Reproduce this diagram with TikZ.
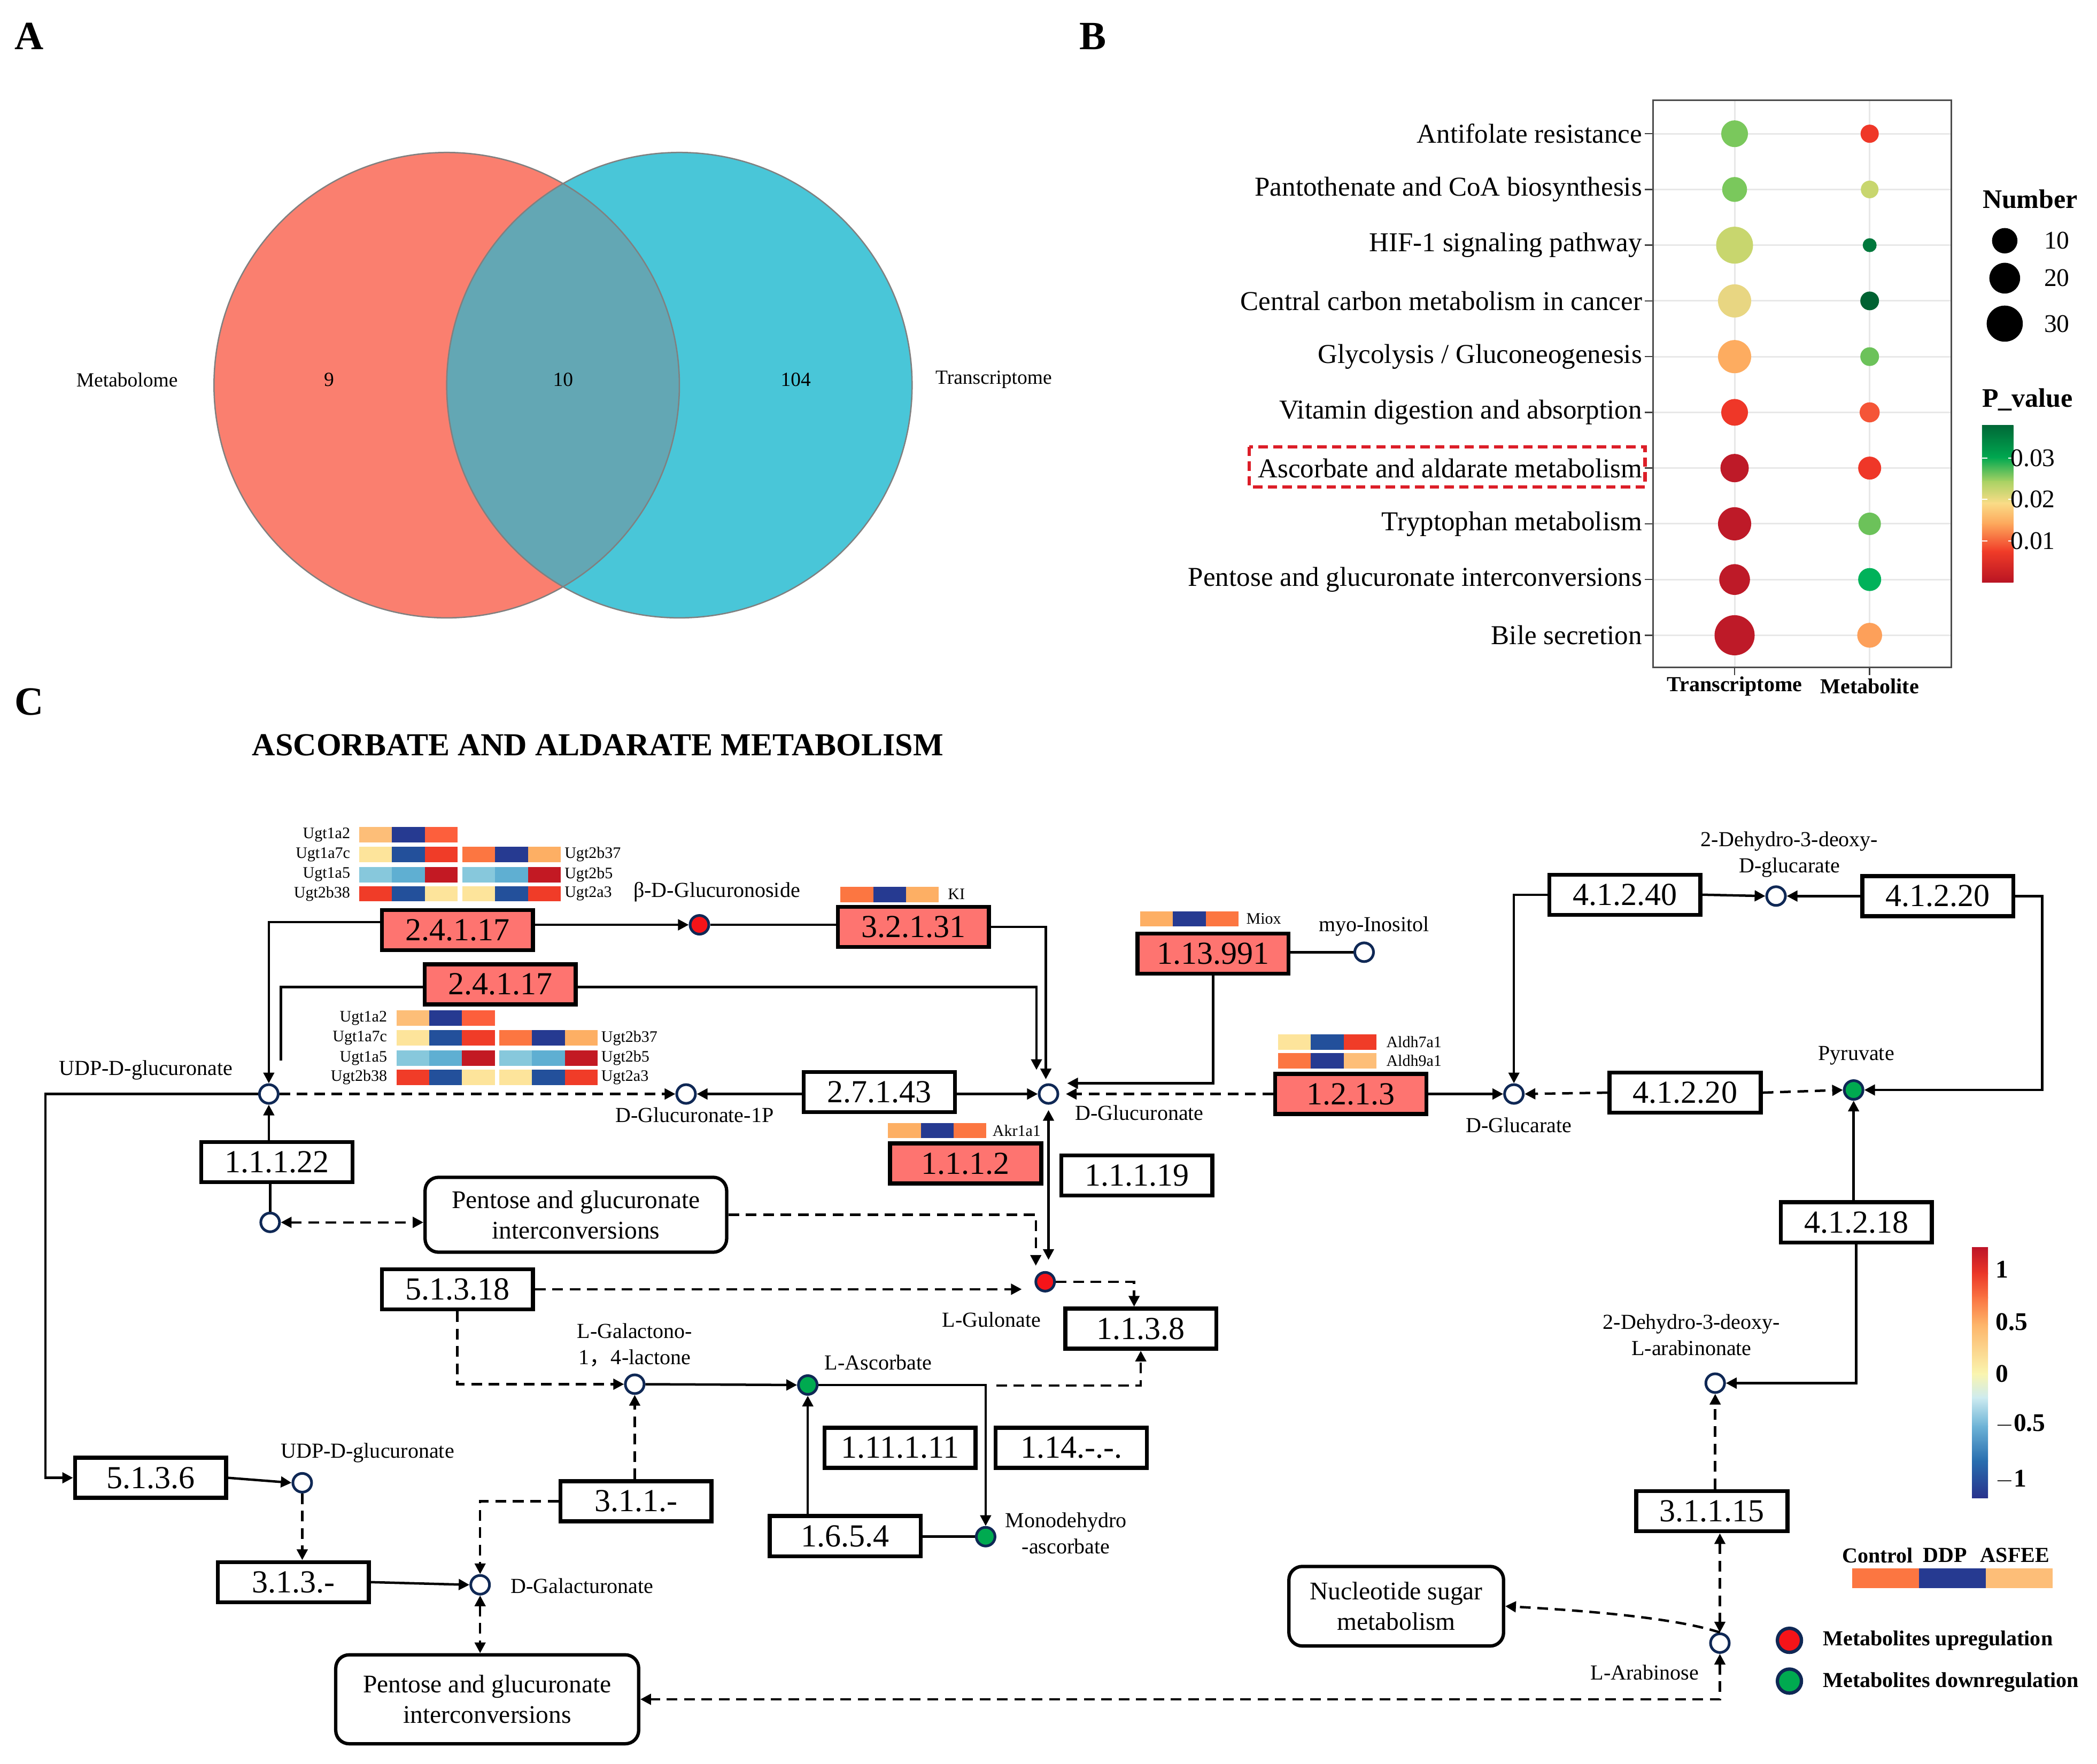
\documentclass[tikz,border=0pt]{standalone}
\usepackage{fontspec}
\setmainfont{Liberation Serif}
\newfontfamily\cjkfont{Noto Sans CJK SC}
\usetikzlibrary{arrows.meta}

% venn
\definecolor{venL}{RGB}{250,127,111}
\definecolor{venR}{RGB}{73,198,216}
\definecolor{venM}{RGB}{99,167,180}
\definecolor{venLine}{RGB}{128,128,128}
% bubble plot
\definecolor{pvDR}{RGB}{190,26,40}
\definecolor{pvR}{RGB}{239,55,40}
\definecolor{pvRO}{RGB}{245,85,55}
\definecolor{pvO}{RGB}{253,172,96}
\definecolor{pvOT}{RGB}{253,160,90}
\definecolor{pvY}{RGB}{232,214,130}
\definecolor{pvYG}{RGB}{200,214,110}
\definecolor{pvLG}{RGB}{122,200,92}
\definecolor{pvG}{RGB}{108,194,90}
\definecolor{pvMG}{RGB}{0,178,90}
\definecolor{pvDG}{RGB}{0,120,60}
\definecolor{pvDDG}{RGB}{0,98,50}
\definecolor{gridc}{RGB}{232,232,232}
\definecolor{hiRed}{RGB}{220,30,40}
\definecolor{pcA}{RGB}{0,104,55}
\definecolor{pcB}{RGB}{0,168,80}
\definecolor{pcC}{RGB}{170,210,100}
\definecolor{pcD}{RGB}{250,220,135}
\definecolor{pcE}{RGB}{253,165,90}
\definecolor{pcF}{RGB}{240,60,40}
\definecolor{pcG}{RGB}{185,20,35}
% pathway
\definecolor{ecred}{RGB}{254,116,112}
\definecolor{cpdline}{RGB}{15,40,85}
\definecolor{upRed}{RGB}{245,20,25}
\definecolor{downGreen}{RGB}{0,170,80}
\definecolor{hPeach}{RGB}{253,190,120}
\definecolor{hNavy}{RGB}{38,58,145}
\definecolor{hCoral}{RGB}{253,95,60}
\definecolor{hPale}{RGB}{253,228,155}
\definecolor{hBlue}{RGB}{35,80,155}
\definecolor{hRed}{RGB}{240,60,40}
\definecolor{hOrange}{RGB}{252,118,65}
\definecolor{hLOr}{RGB}{253,175,100}
\definecolor{hCyanL}{RGB}{135,200,220}
\definecolor{hCyan}{RGB}{95,175,210}
\definecolor{hDRed}{RGB}{195,25,35}
\definecolor{scA}{RGB}{190,20,40}
\definecolor{scB}{RGB}{235,55,40}
\definecolor{scC}{RGB}{250,115,65}
\definecolor{scD}{RGB}{253,180,105}
\definecolor{scE}{RGB}{250,245,175}
\definecolor{scF}{RGB}{205,235,240}
\definecolor{scG}{RGB}{110,180,215}
\definecolor{scH}{RGB}{40,110,175}
\definecolor{scI}{RGB}{40,50,140}

\begin{document}
\begin{tikzpicture}[x=1pt,y=-1pt,
    >={Triangle[length=8pt,width=8pt]},
    panel/.style={font=\fontsize{30}{30}\selectfont\bfseries,inner sep=0pt},
    venn/.style={font=\fontsize{15}{15}\selectfont,inner sep=0pt},
    rowlab/.style={font=\fontsize{20.4}{20.4}\selectfont,anchor=east,inner sep=0pt},
    axlab/.style={font=\fontsize{16}{16}\selectfont\bfseries,inner sep=0pt},
    legtitle/.style={font=\fontsize{20}{20}\selectfont\bfseries,inner sep=0pt},
    legnum/.style={font=\fontsize{19}{19}\selectfont,inner sep=0pt},
    scalenum/.style={font=\fontsize{19}{19}\selectfont\bfseries,inner sep=0pt,anchor=west},
    heading/.style={font=\fontsize{24}{24}\selectfont\bfseries,inner sep=0pt},
    enzyme/.style={draw,line width=3pt,fill=white,minimum width=113pt,
        minimum height=30pt,inner sep=0pt,font=\fontsize{24}{24}\selectfont},
    enzup/.style={enzyme,fill=ecred},
    cpd/.style={circle,draw=cpdline,line width=2pt,fill=white,
        minimum size=14pt,inner sep=0pt},
    cpdname/.style={font=\fontsize{16}{19.5}\selectfont,inner sep=0pt,align=center},
    gene/.style={font=\fontsize{12}{12}\selectfont,inner sep=0pt},
    mapbox/.style={draw,line width=2.5pt,rounded corners=10pt,fill=white,
        align=center,inner sep=0pt,font=\fontsize{19}{22.8}\selectfont},
    legend/.style={font=\fontsize{16}{16}\selectfont\bfseries,inner sep=0pt},
    conv/.style={line width=1.8pt,->},
    link/.style={line width=1.8pt},
    flux/.style={dash pattern=on 8pt off 5pt}]
\fill[white] (0,0) rectangle (1568,1318.6);
\useasboundingbox (0,0) rectangle (1568,1318.6);

\node[panel] (pA) at (22,27) {A};
\node[panel] (pB) at (817,27) {B};
\node[panel] (pC) at (22,525) {C};

% A: venn
\fill[venL] (334,288) circle[radius=174];
\fill[venR] (508,288) circle[radius=174];
\begin{scope}
\clip (334,288) circle[radius=174];
\fill[venM] (508,288) circle[radius=174];
\end{scope}
\draw[venLine,line width=1pt] (334,288) circle[radius=174] (508,288) circle[radius=174];
\node[venn] (metab) at (95,284) {Metabolome};
\node[venn] (nMet) at (246,284) {9};
\node[venn] (nBoth) at (421,284) {10};
\node[venn] (nTr) at (595,284) {104};
\node[venn] (trans) at (743,284) {Transcriptome};

% B: bubbles
\foreach \i in {1,...,10}{
  \pgfmathsetmacro\ry{100+41.667*(\i-1)}
  \draw[gridc,line width=1.2pt] (1236,\ry) -- (1459,\ry);
  \draw[black!75,line width=1pt] (1230,\ry) -- (1236,\ry);
}
\draw[gridc,line width=1.2pt] (1297,75) -- (1297,499) (1398,75) -- (1398,499);
\draw[black!75,line width=1pt] (1297,499) -- (1297,505) (1398,499) -- (1398,505);
\draw[black!70,line width=1pt] (1236,75) rectangle (1459,499);
\foreach \ry/\ct/\rt/\cm/\rm in {100/pvLG/10/pvR/6.8, 141.67/pvLG/9.3/pvYG/6.6,
    183.33/pvYG/13.8/pvDG/5.2, 225/pvY/12.4/pvDDG/7, 266.67/pvO/12.4/pvG/7,
    308.33/pvR/10/pvRO/7.5, 350/pvDR/10.6/pvR/8.6, 391.67/pvDR/12.4/pvG/8.4,
    433.33/pvDR/11.5/pvMG/8.6, 475/pvDR/15/pvOT/9.3}{
  \fill[\ct] (1297,\ry) circle[radius=\rt];
  \fill[\cm] (1398,\ry) circle[radius=\rm];
}
\foreach \t [count=\i] in {Antifolate resistance, Pantothenate and CoA biosynthesis,
    HIF-1 signaling pathway, Central carbon metabolism in cancer,
    Glycolysis / Gluconeogenesis, Vitamin digestion and absorption,
    Ascorbate and aldarate metabolism, Tryptophan metabolism,
    Pentose and glucuronate interconversions, Bile secretion}{
  \pgfmathsetmacro\ry{100+41.667*(\i-1)}
  \node[rowlab] (path\i) at (1228,\ry) {\t};
}
\draw[hiRed,line width=2.5pt,dash pattern=on 7pt off 4pt] (934,334) rectangle (1230,364);
\node[axlab] (xTr) at (1297,513) {Transcriptome};
\node[axlab] (xMe) at (1398,513) {Metabolite};

\node[legtitle] (numT) at (1518,149) {Number};
\foreach \ly/\lr/\lt in {180/9.5/10, 208/11.5/20, 242/13.5/30}{
  \fill (1499,\ly) circle[radius=\lr];
  \node[legnum] (num\lt) at (1538,\ly) {\lt};
}
\node[legtitle] (pvT) at (1516,299) {P\_value};
\foreach \ya/\yb/\ca/\cb in {318/342/pcA/pcB, 342/360/pcB/pcC, 360/376/pcC/pcD,
    376/392/pcD/pcE, 392/412/pcE/pcF, 412/435/pcF/pcG}
  \shade[top color=\ca,bottom color=\cb] (1482,\ya) rectangle (1505.5,\yb+0.5);
\foreach \ly/\lt in {342.6/0.03, 373.4/0.02, 404.5/0.01}{
  \draw[white,line width=1pt] (1482,\ly) -- ++(4,0) (1501.5,\ly) -- ++(4,0);
  \node[legnum] (pv\lt) at (1520,\ly) {\lt};
}

% C: pathway
\node[heading] (ttl) at (447,557) {ASCORBATE AND ALDARATE METABOLISM};

% gene heat maps
\foreach \hx/\hy/\ca/\cb/\cc in {268.6/618.5/hPeach/hNavy/hCoral,
    268.6/633.3/hPale/hBlue/hRed, 345.8/633.3/hOrange/hNavy/hLOr,
    268.6/648.3/hCyanL/hCyan/hDRed, 345.8/648.3/hCyanL/hCyan/hDRed,
    268.6/662.5/hRed/hBlue/hPale, 345.8/662.5/hPale/hBlue/hRed,
    296.5/755.6/hPeach/hNavy/hCoral,
    296.5/770.4/hPale/hBlue/hRed, 373.3/770.4/hOrange/hNavy/hLOr,
    296.5/785.5/hCyanL/hCyan/hDRed, 373.3/785.5/hCyanL/hCyan/hDRed,
    296.5/799.8/hRed/hBlue/hPale, 373.3/799.8/hPale/hBlue/hRed,
    628.4/663/hOrange/hNavy/hLOr, 852.5/681.3/hLOr/hNavy/hOrange,
    955.7/773.4/hPale/hBlue/hRed, 955.7/787.5/hOrange/hNavy/hPeach,
    664/839.6/hLOr/hNavy/hOrange}{
  \fill[\ca] (\hx,\hy) rectangle ++(24.5,11.5);
  \fill[\cb] (\hx+24.5,\hy) rectangle ++(24.5,11.5);
  \fill[\cc] (\hx+49,\hy) rectangle ++(24.5,11.5);
}
\foreach \gx/\gy/\ga/\gt [count=\k] in {262/624.3/east/Ugt1a2, 262/639/east/Ugt1a7c,
    262/654/east/Ugt1a5, 262/668.3/east/Ugt2b38, 422/639/west/Ugt2b37,
    422/654/west/Ugt2b5, 422/668.3/west/Ugt2a3,
    289.6/761.4/east/Ugt1a2, 289.6/776.2/east/Ugt1a7c, 289.6/791.3/east/Ugt1a5,
    289.6/805.6/east/Ugt2b38, 449.4/776.2/west/Ugt2b37, 449.4/791.3/west/Ugt2b5,
    449.4/805.6/west/Ugt2a3, 708.6/668.7/west/KI, 931.7/687/west/Miox,
    1036.4/779.2/west/Aldh7a1, 1036.4/793.2/west/Aldh9a1, 742/845.4/west/Akr1a1}
  \node[gene,anchor=\ga] (gene\k) at (\gx,\gy) {\gt};

% enzymes
\node[enzup] (ugtA) at (342,695.5) {2.4.1.17};
\node[enzup] (ugtB) at (374,736) {2.4.1.17};
\node[enzup] (gusb) at (683,693) {3.2.1.31};
\node[enzyme] (kin) at (657.5,816.5) {2.7.1.43};
\node[enzyme] (ugdh) at (207,869) {1.1.1.22};
\node[enzup] (akr) at (722,870) {1.1.1.2};
\node[enzyme] (gulDH) at (850,879) {1.1.1.19};
\node[enzup] (miox) at (907,713) {1.13.991};
\node[enzup] (aldh) at (1010,818) {1.2.1.3};
\node[enzyme] (dgA) at (1215,669) {4.1.2.40};
\node[enzyme] (dgB) at (1449,670) {4.1.2.20};
\node[enzyme] (dgC) at (1260,817) {4.1.2.20};
\node[enzyme] (arA) at (1388,914) {4.1.2.18};
\node[enzyme] (arB) at (1280,1130) {3.1.1.15};
\node[enzyme] (epi) at (342,964) {5.1.3.18};
\node[enzyme] (gulO) at (853,993.5) {1.1.3.8};
\node[enzyme] (apx) at (673,1082.6) {1.11.1.11};
\node[enzyme] (oxy) at (801,1082.6) {1.14.-.-.};
\node[enzyme] (lac) at (475.5,1122.5) {3.1.1.-};
\node[enzyme] (mdhar) at (632,1148.6) {1.6.5.4};
\node[enzyme] (udpE) at (112.6,1105) {5.1.3.6};
\node[enzyme] (phos) at (219.3,1183) {3.1.3.-};

\node[mapbox,minimum width=225.5pt,minimum height=56pt] (pgA) at (430.6,908.3)
    {Pentose and glucuronate\\interconversions};
\node[mapbox,minimum width=226.5pt,minimum height=66.5pt] (pgB) at (364.3,1270.6)
    {Pentose and glucuronate\\interconversions};
\node[mapbox,minimum width=160.5pt,minimum height=59.5pt] (nuc) at (1044,1201)
    {Nucleotide sugar\\metabolism};

% compounds
\node[cpd] (udpA) at (201,818) {};
\node[cpd,fill=upRed] (glcside) at (523,691.5) {};
\node[cpd] (glc1p) at (513,818) {};
\node[cpd] (glcA) at (784,818) {};
\node[cpd] (inos) at (1020,712) {};
\node[cpd] (glcar) at (1132,818) {};
\node[cpd] (dgluc) at (1328,670) {};
\node[cpd,fill=downGreen] (pyr) at (1386,815) {};
\node[cpd] (pgIn) at (202,914) {};
\node[cpd,fill=upRed] (gul) at (781.5,958.4) {};
\node[cpd] (galac) at (474.6,1035) {};
\node[cpd,fill=downGreen] (asc) at (604,1035.6) {};
\node[cpd,fill=downGreen] (mdha) at (737,1149) {};
\node[cpd] (udpB) at (226,1108.7) {};
\node[cpd] (galur) at (359,1185) {};
\node[cpd] (arabn) at (1282.5,1034.2) {};
\node[cpd] (arab) at (1286,1228.6) {};

\node[cpdname] (udpAn) at (109,800) {UDP-D-glucuronate};
\node[cpdname] (glcsiden) at (536,667) {β-D-Glucuronoside};
\node[cpdname] (glc1pn) at (519.4,833.6) {D-Glucuronate-1P};
\node[cpdname] (glcAn) at (852,832) {D-Glucuronate};
\node[cpdname] (inosn) at (1027.4,692.7) {myo-Inositol};
\node[cpdname] (glcarn) at (1135.7,841.3) {D-Glucarate};
\node[cpdname] (dglucn) at (1338,639) {2-Dehydro-3-deoxy-\\D-glucarate};
\node[cpdname] (pyrn) at (1388,789.3) {Pyruvate};
\node[cpdname] (guln) at (741.4,986.8) {L-Gulonate};
\node[cpdname] (galacn) at (474.6,1005.7) {L-Galactono-\\1{\cjkfont ，}4-lactone};
\node[cpdname] (ascn) at (656.7,1018.8) {L-Ascorbate};
\node[cpdname] (mdhan) at (797,1146.4) {Monodehydro\\-ascorbate};
\node[cpdname] (udpBn) at (274.8,1086.3) {UDP-D-glucuronate};
\node[cpdname] (galurn) at (435.3,1185.8) {D-Galacturonate};
\node[cpdname] (arabnn) at (1264.8,998.2) {2-Dehydro-3-deoxy-\\L-arabinonate};
\node[cpdname] (arabn2) at (1229.8,1250.4) {L-Arabinose};

% reactions
\coordinate (ugtBend) at (210,793);
\coordinate (ascFork) at (745,1036);
\draw[conv] ([yshift=6pt]ugtA.west) -| (udpA.north);
\draw[conv] (ugtA.east |- glcside) -- (glcside.west);
\draw[link] (glcside.east) -- (gusb.west |- glcside);
\draw[conv] (gusb.east) -| ([xshift=-2pt,yshift=3pt]glcA.north);
\draw[link] ([yshift=-2pt]ugtB.west) -| (ugtBend);
\draw[conv] ([yshift=-2pt]ugtB.east) -| ([xshift=-9pt,yshift=10pt]glcA.north);
\draw[conv,flux] (udpA.east) -- (glc1p.west);
\draw[conv] (kin.west |- glc1p) -- (glc1p.east);
\draw[conv] (kin.east |- glcA) -- (glcA.west);
\draw[conv] (miox.south) |- ([xshift=6pt,yshift=8pt]glcA.east);
\draw[link] (inos.west) -- (miox.east |- inos);
\draw[conv,flux] (aldh.west |- glcA) -- ([xshift=5pt]glcA.east);
\draw[conv] (aldh.east) -- (glcar.west);
\draw[conv] (dgA.west) -| (glcar.north);
\draw[conv] (dgA.east) -- (dgluc.west);
\draw[conv] (dgB.west) -- (dgluc.east);
\draw[conv] (dgB.east) -- ++(20,0) |- (pyr.east);
\draw[conv,flux] (dgC.west) -- (glcar.east);
\draw[conv,flux] (dgC.east) -- (pyr.west);
\draw[conv] (arA.north -| pyr) -- (pyr.south);
\draw[conv] (arA.south) |- (arabn.east);
\draw[conv,flux] (arB.north -| arabn) -- (arabn.south);
\draw[conv,flux,<->] (arB.south -| arab) -- (arab.north);
\draw[conv,flux] (arab.north) .. controls (1250,1209) and (1180,1204) .. (nuc.east);
\draw[conv,flux,<->] (arab.south) |- (pgB.east);
\draw[conv] (ugdh.north -| udpA) -- (udpA.south);
\draw[link] (ugdh.south -| pgIn) -- (pgIn.north);
\draw[conv,flux,<->] (pgIn.east) -- (pgIn -| pgA.west);
\draw[conv,flux] (pgA.east) -| ([xshift=-7pt,yshift=4pt]gul.north);
\draw[conv,<->] ([yshift=-4pt]glcA.south) -- (glcA.south |- 0,942);
\draw[conv,flux] (epi.east) -- (epi.east -| 764,0);
\draw[conv,flux] (epi.south) |- (galac.west);
\draw[conv,flux] (gul.east) -| ([xshift=-5pt]gulO.north);
\draw[conv] (galac.east) -- (asc.west);
\draw[conv,flux] (lac.north -| galac) -- (galac.south);
\draw[conv,flux] (lac.west) -| (galur.north);
\draw[conv] (asc.east) -| (mdha.north);
\draw[conv,flux] (ascFork) -| (gulO.south);
\draw[conv] (asc.south |- mdhar.north) -- (asc.south);
\draw[link] (mdhar.east |- mdha) -- (mdha.west);
\draw[conv] (udpA.west) -- ++(-159,0) |- (udpE.west);
\draw[conv] (udpE.east) -- (udpB.west);
\draw[conv,flux] (udpB.south) -- (udpB.south |- phos.north);
\draw[conv] (phos.east) -- (galur.west);
\draw[conv,flux,<->] (galur.south) -- (galur.south |- pgB.north);

% legends
\foreach \ya/\yb/\ca/\cb in {932.5/952/scA/scB, 952/970/scB/scC, 970/990/scC/scD,
    990/1027/scD/scE, 1027/1045/scE/scF, 1045/1066/scF/scG, 1066/1092/scG/scH,
    1092/1119.5/scH/scI}
  \shade[top color=\ca,bottom color=\cb] (1474.5,\ya) rectangle (1486.5,\yb+0.5);
\foreach \ly/\lt [count=\k] in {949/1, 988.4/0.5, 1027/0, 1064.7/$-$0.5, 1106/$-$1}
  \node[scalenum] (sc\k) at (1492,\ly) {\lt};
\node[legend] (lgCtl) at (1404,1163) {Control};
\node[legend] (lgDDP) at (1454.5,1163) {DDP};
\node[legend] (lgAS) at (1506.6,1163) {ASFEE};
\fill[hOrange] (1385,1172.7) rectangle (1435,1187.4);
\fill[hNavy] (1435,1172.7) rectangle (1485,1187.4);
\fill[hPeach] (1485,1172.7) rectangle (1535,1187.4);
\node[cpd,fill=upRed,minimum size=18pt,line width=2.5pt] (lgUp) at (1338,1226.5) {};
\node[cpd,fill=downGreen,minimum size=18pt,line width=2.5pt] (lgDown) at (1338,1257) {};
\node[legend,anchor=west] (lgUpT) at (1363,1226.5) {Metabolites upregulation};
\node[legend,anchor=west] (lgDownT) at (1363,1258) {Metabolites downregulation};
\end{tikzpicture}
\end{document}
